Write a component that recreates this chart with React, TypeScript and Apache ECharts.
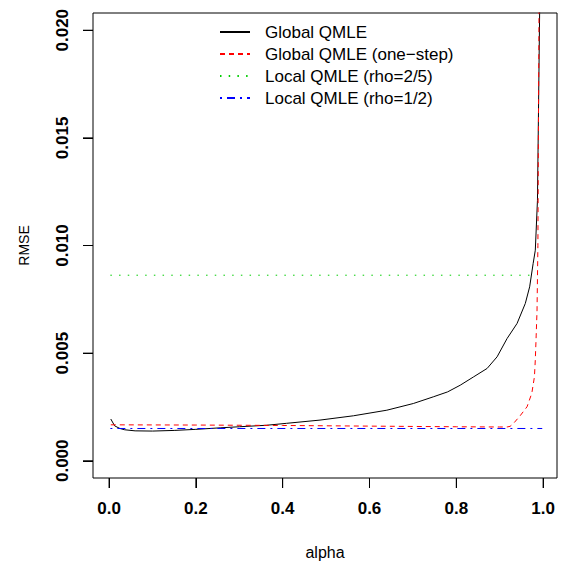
import React, { useEffect, useRef } from "react";
import * as echarts from "echarts";

const xTicks = [0, 0.2, 0.4, 0.6, 0.8, 1.0];
const yTicks = [0, 0.005, 0.01, 0.015, 0.02];

const seriesNames = [
  "Global QMLE",
  "Global QMLE (one\u2212step)",
  "Local QMLE (rho=2/5)",
  "Local QMLE (rho=1/2)",
];

const alphaGlobal = [0.004, 0.013, 0.025, 0.036, 0.06, 0.1, 0.15, 0.2, 0.256, 0.3, 0.363, 0.409, 0.486, 0.563, 0.64, 0.701, 0.747, 0.78, 0.809, 0.84, 0.871, 0.894, 0.917, 0.94, 0.959, 0.969, 0.977, 0.982, 0.987, 0.992, 0.995];
const rmseGlobal = [0.00194, 0.00162, 0.0015, 0.00144, 0.00139, 0.00138, 0.00141, 0.00146, 0.00153, 0.00158, 0.00165, 0.00174, 0.00189, 0.00209, 0.00235, 0.00266, 0.00297, 0.0032, 0.00351, 0.0039, 0.00429, 0.00483, 0.00568, 0.00638, 0.00731, 0.00808, 0.00916, 0.00978, 0.0121, 0.0208, 0.0225];

const alphaOneStep = [0.004, 0.2, 0.4, 0.6, 0.8, 0.9, 0.917, 0.924, 0.932, 0.947, 0.963, 0.974, 0.98, 0.982, 0.984, 0.986, 0.988, 0.9905, 0.995];
const rmseOneStep = [0.00167, 0.00166, 0.00164, 0.00161, 0.00158, 0.00157, 0.00157, 0.0016, 0.00174, 0.00209, 0.00251, 0.00314, 0.0039, 0.00468, 0.0058, 0.007, 0.01, 0.0208, 0.026];

const alphaLocal25 = [0.003, 0.985];
const rmseLocal25 = [0.00862, 0.00862];

const alphaLocal12 = [0.003, 0.998];
const rmseLocal12 = [0.0015, 0.0015];

const zip = (xs: number[], ys: number[]) => xs.map((x, i) => [x, ys[i]]);

const X_MIN = -0.037;
const X_MAX = 1.032;
const Y_MIN = -0.0008;
const Y_MAX = 0.0208;

export default function App() {
  const ref = useRef<HTMLDivElement>(null);
  useEffect(() => {
    if (!ref.current) return;
    const chart = echarts.init(ref.current, undefined, { renderer: "svg" });
    const font = "'Liberation Sans', Arial, Helvetica, sans-serif";
    const mk = (name: string, data: number[][], color: string, type: any) => ({
      name,
      type: "line",
      data,
      showSymbol: false,
      symbol: "none",
      clip: true,
      lineStyle: { color, width: 1, type },
      itemStyle: { color },
      emphasis: { disabled: true },
    });
    chart.setOption({
      animation: false,
      backgroundColor: "#ffffff",
      textStyle: { fontFamily: font },
      grid: {
        left: 93,
        top: 13,
        width: 464,
        height: 465,
        show: true,
        borderColor: "#000",
        borderWidth: 1,
        containLabel: false,
        outerBoundsMode: "none",
      },
      legend: {
        orient: "vertical",
        left: 214,
        top: 18.5,
        itemWidth: 30,
        itemHeight: 14,
        itemGap: 5,
        itemStyle: { opacity: 0 },
        textStyle: { fontSize: 17, color: "#000", fontFamily: font, padding: [0, 0, 0, 10] },
        data: seriesNames,
      },
      xAxis: {
        type: "value",
        position: "bottom",
        min: X_MIN,
        max: X_MAX,
        name: "alpha",
        nameLocation: "middle",
        nameGap: 66,
        nameTextStyle: { fontSize: 16, color: "#000", fontFamily: font },
        axisLine: { show: false, onZero: false },
        axisTick: { show: true, inside: false, length: 10, customValues: xTicks, lineStyle: { color: "#000", width: 1 } },
        axisLabel: {
          customValues: xTicks,
          formatter: (v: number) => v.toFixed(1),
          fontSize: 17,
          fontWeight: "bold",
          color: "#000",
          margin: 22,
          fontFamily: font,
        },
        splitLine: { show: false },
      },
      yAxis: {
        type: "value",
        position: "left",
        min: Y_MIN,
        max: Y_MAX,
        name: "RMSE",
        nameLocation: "middle",
        nameGap: 62,
        nameTextStyle: { fontSize: 14, color: "#000", fontFamily: font },
        axisLine: { show: false, onZero: false },
        axisTick: { show: true, inside: false, length: 10, customValues: yTicks, lineStyle: { color: "#000", width: 1 } },
        axisLabel: {
          customValues: yTicks,
          formatter: (v: number) => v.toFixed(3),
          rotate: 90,
          fontSize: 17,
          fontWeight: "bold",
          color: "#000",
          margin: 22,
          fontFamily: font,
        },
        splitLine: { show: false },
      },
      series: [
        mk(seriesNames[0], zip(alphaGlobal, rmseGlobal), "#000000", "solid"),
        mk(seriesNames[1], zip(alphaOneStep, rmseOneStep), "#FF0000", [5, 4]),
        mk(seriesNames[2], zip(alphaLocal25, rmseLocal25), "#00CD00", [1.5, 7.2]),
        mk(seriesNames[3], zip(alphaLocal12, rmseLocal12), "#0000FF", [2, 5, 8, 5]),
      ],
    });

    // Outward tick marks placed through the library's own scales
    const tickEls: any[] = [];
    xTicks.forEach((v) => {
      const p = chart.convertToPixel({ gridIndex: 0 }, [v, Y_MIN]) as number[];
      if (!p) return;
      tickEls.push({
        type: "line",
        silent: true,
        z: 20,
        shape: { x1: p[0], y1: p[1], x2: p[0], y2: p[1] + 10 },
        style: { stroke: "#000", lineWidth: 1 },
      });
    });
    yTicks.forEach((v) => {
      const p = chart.convertToPixel({ gridIndex: 0 }, [X_MIN, v]) as number[];
      if (!p) return;
      tickEls.push({
        type: "line",
        silent: true,
        z: 20,
        shape: { x1: p[0] - 10, y1: p[1], x2: p[0], y2: p[1] },
        style: { stroke: "#000", lineWidth: 1 },
      });
    });
    chart.setOption({ graphic: tickEls });

    return () => chart.dispose();
  }, []);
  return (
    <div
      ref={ref}
      style={{ position: "fixed", left: 0, top: 0, width: 565, height: 565, background: "#fff" }}
    />
  );
}
